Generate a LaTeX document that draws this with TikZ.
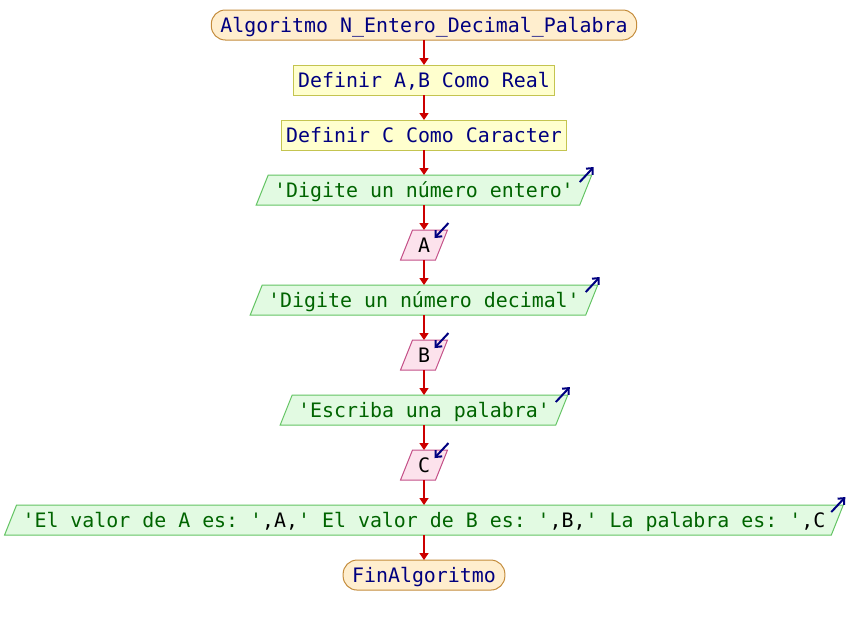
\documentclass[tikz,border=0pt]{standalone}
\usepackage{fontspec}
\setmonofont{DejaVu Sans Mono}
\usetikzlibrary{shapes.geometric,positioning,arrows.meta}
\definecolor{termfill}{RGB}{255,238,206}
\definecolor{termline}{RGB}{196,140,60}
\definecolor{deffill}{RGB}{255,255,206}
\definecolor{defline}{RGB}{196,196,80}
\definecolor{outfill}{RGB}{226,250,226}
\definecolor{outline}{RGB}{100,196,100}
\definecolor{infill}{RGB}{252,226,236}
\definecolor{inline}{RGB}{196,80,136}
\definecolor{kwblue}{RGB}{0,0,128}
\definecolor{strgreen}{RGB}{0,100,0}
\definecolor{flowred}{RGB}{204,0,0}
\newcommand{\str}[1]{{\color{strgreen}#1}}

\begin{document}
\begin{tikzpicture}[x=1pt, y=1pt, node distance=25pt,
   every node/.style={font=\ttfamily\fontsize{19.9}{24}\selectfont, outer sep=0pt,
                      inner ysep=6pt, text height=16pt, text depth=2pt},
   startstop/.style={draw=termline, fill=termfill, text=kwblue, rounded corners=14pt, inner xsep=9pt},
   defbox/.style={draw=defline, fill=deffill, text=kwblue, inner xsep=5pt},
   outbox/.style={trapezium, trapezium left angle=68.2, trapezium right angle=111.8,
                  draw=outline, fill=outfill, text=black, inner xsep=6pt},
   inbox/.style={trapezium, trapezium left angle=68.2, trapezium right angle=111.8,
                 draw=inline, fill=infill, text=black, inner xsep=5.5pt},
   flowline/.style={draw=flowred, line width=1.6pt, -{Triangle[width=9pt,length=7pt]}},
   ioline/.style={draw=kwblue, line width=2pt, -{Straight Barb[width=9pt,length=5pt]}},
   line width=1pt]

   \useasboundingbox (0,0) rectangle (848,-625);

   \node[startstop] (start) at (424,-25) {Algoritmo N\_Entero\_Decimal\_Palabra};
   \node[defbox, below=of start] (defab) {Definir A,B Como Real};
   \node[defbox, below=of defab] (defc) {Definir C Como Caracter};
   \node[outbox, below=of defc] (out1) {\str{'Digite un número entero'}};
   \node[inbox, below=of out1] (ina) {A};
   \node[outbox, below=of ina] (out2) {\str{'Digite un número decimal'}};
   \node[inbox, below=of out2] (inb) {B};
   \node[outbox, below=of inb] (out3) {\str{'Escriba una palabra'}};
   \node[inbox, below=of out3] (inc) {C};
   \node[outbox, below=of inc] (out4) {\str{'El valor de A es: '},A,\str{' El valor de B es: '},B,\str{' La palabra es: '},C};
   \node[startstop, below=of out4] (stop) {FinAlgoritmo};

   % flow
   \foreach \a/\b in {start/defab, defab/defc, defc/out1, out1/ina, ina/out2,
                      out2/inb, inb/out3, out3/inc, inc/out4, out4/stop}
     \draw[flowline] (\a.south) -- (\b.north);

   % io marks
   \foreach \o in {out1, out2, out3, out4}
     \draw[ioline] ([shift={(-12,-7)}]\o.top right corner) -- ++(14,15);
   \foreach \i in {ina, inb, inc}
     \draw[ioline] ([shift={(1,7)}]\i.top right corner) -- ++(-14,-15);
\end{tikzpicture}
\end{document}
